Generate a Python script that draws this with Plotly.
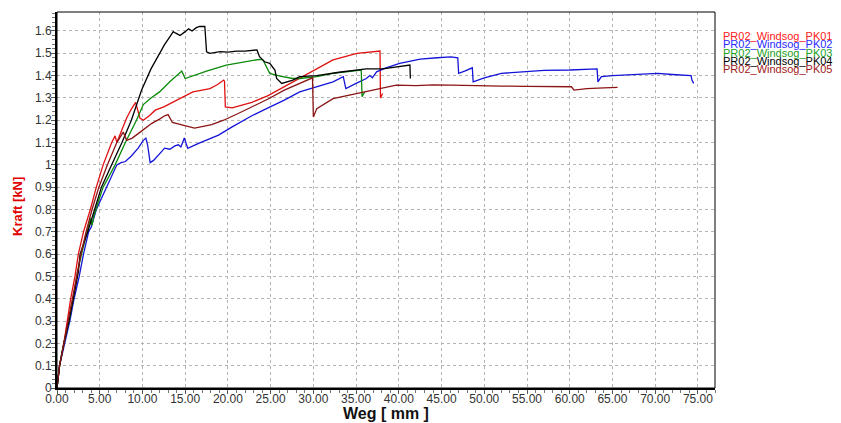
import plotly.graph_objects as go

# ---- data ----
names = ["PR02_Windsog_PK01", "PR02_Windsog_PK02", "PR02_Windsog_PK03",
         "PR02_Windsog_PK04", "PR02_Windsog_PK05"]

pk01_x = [0, 0.3, 0.8, 1.2, 1.6, 2.1, 2.5, 3.1, 3.9, 4.6, 5.4, 6.4, 6.8, 7.0, 7.4, 8.15, 8.7,
          9.1, 9.2, 9.7, 10.1, 10.8, 11.5, 12.5, 14.0, 15.9, 17.0, 17.9, 18.8, 19.5, 19.6,
          19.7, 20.5, 21.5, 22.8, 24.7, 26.6, 28.4, 30.4, 32.3, 35.1, 37.8, 37.85, 38.1]
pk01_y = [0, 0.1, 0.2, 0.3, 0.4, 0.5, 0.6, 0.7, 0.8, 0.9, 1.0, 1.1, 1.13, 1.10, 1.14, 1.21, 1.25,
          1.275, 1.28, 1.21, 1.20, 1.22, 1.245, 1.26, 1.29, 1.327, 1.335, 1.342, 1.36, 1.38, 1.375,
          1.26, 1.255, 1.265, 1.28, 1.31, 1.35, 1.387, 1.43, 1.47, 1.50, 1.51, 1.30, 1.32]

pk02_x = [0, 0.3, 0.9, 1.5, 2.0, 2.6, 3.1, 3.7, 4.0, 4.6, 5.8, 7.0, 7.5, 8.0, 8.7, 9.5, 10.1,
          10.4, 10.6, 10.9, 11.3, 12.0, 12.6, 13.2, 13.8, 14.2, 14.5, 14.9, 15.3, 16.5, 17.8,
          18.9, 20.5, 22.8, 24.7, 26.6, 28.4, 30.5, 32.3, 33.5, 33.8, 35.0, 36.2, 36.6, 36.9,
          37.4, 38.5, 40.1, 42.5, 44.5, 46.1, 46.9, 47.0, 47.7, 48.6, 48.7, 50.0, 52.0, 55.1,
          57.0, 60.0, 63.2, 63.3, 63.7, 65.0, 67.5, 70.3, 72.0, 74.2, 74.3, 74.5]
pk02_y = [0, 0.1, 0.2, 0.3, 0.4, 0.5, 0.6, 0.7, 0.72, 0.8, 0.9, 1.0, 1.01, 1.015, 1.04, 1.075,
          1.11, 1.12, 1.09, 1.01, 1.02, 1.05, 1.075, 1.07, 1.085, 1.09, 1.08, 1.12, 1.074, 1.095,
          1.115, 1.133, 1.17, 1.22, 1.255, 1.29, 1.327, 1.35, 1.372, 1.395, 1.342, 1.365, 1.387,
          1.40, 1.39, 1.417, 1.435, 1.455, 1.474, 1.48, 1.484, 1.48, 1.41, 1.42, 1.435, 1.372,
          1.39, 1.41, 1.42, 1.423, 1.425, 1.43, 1.372, 1.395, 1.40, 1.405, 1.41, 1.405, 1.40,
          1.38, 1.365]

pk03_x = [0, 0.3, 0.8, 1.4, 1.9, 2.4, 3.0, 3.7, 3.9, 4.1, 4.3, 4.8, 5.4, 6.8, 8.0, 9.3, 10.1,
          11.0, 12.0, 13.2, 14.4, 14.6, 15.0, 15.9, 17.5, 19.8, 21.8, 23.7, 24.1, 24.5, 24.9,
          26.1, 27.6, 28.4, 30.4, 32.3, 34.0, 35.6, 35.7, 36.0]
pk03_y = [0, 0.1, 0.2, 0.3, 0.4, 0.52, 0.62, 0.72, 0.76, 0.73, 0.77, 0.83, 0.9, 1.0, 1.1, 1.2,
          1.27, 1.30, 1.327, 1.372, 1.41, 1.42, 1.387, 1.40, 1.42, 1.447, 1.46, 1.473, 1.47,
          1.44, 1.41, 1.398, 1.387, 1.387, 1.395, 1.41, 1.418, 1.425, 1.305, 1.327]

pk04_x = [0, 0.3, 0.8, 1.4, 2.0, 2.5, 2.7, 3.6, 4.4, 5.2, 6.4, 7.6, 8.7, 9.9, 11.0, 12.0, 12.6,
          13.2, 13.6, 13.9, 14.4, 15.0, 15.4, 15.8, 16.3, 16.7, 17.3, 17.5, 17.9, 19.1, 20.0,
          21.0, 22.0, 23.4, 23.7, 24.3, 24.9, 25.5, 25.7, 26.3, 27.6, 28.4, 30.4, 33.0, 36.2,
          38.1, 40.0, 41.3, 41.35]
pk04_y = [0, 0.1, 0.2, 0.3, 0.42, 0.52, 0.6, 0.7, 0.8, 0.9, 1.0, 1.1, 1.2, 1.335, 1.43, 1.50,
          1.54, 1.574, 1.597, 1.59, 1.58, 1.597, 1.61, 1.60, 1.615, 1.62, 1.62, 1.507, 1.50,
          1.507, 1.505, 1.51, 1.51, 1.515, 1.485, 1.462, 1.455, 1.425, 1.387, 1.365, 1.38,
          1.395, 1.40, 1.415, 1.43, 1.43, 1.44, 1.447, 1.387]

pk05_x = [0, 0.3, 0.8, 1.3, 1.9, 2.3, 2.8, 3.4, 4.1, 4.9, 5.9, 7.0, 7.75, 8.15, 8.8, 9.5, 10.3,
          11.1, 12.0, 12.6, 13.0, 13.5, 14.5, 16.1, 18.1, 19.5, 21.2, 22.8, 24.7, 26.6, 28.6,
          29.9, 30.0, 30.4, 32.3, 35.1, 37.8, 39.7, 42.0, 44.0, 46.1, 48.0, 50.0, 52.0, 55.0,
          58.0, 60.2, 60.5, 62.0, 64.0, 65.6]
pk05_y = [0, 0.1, 0.2, 0.3, 0.42, 0.5, 0.6, 0.7, 0.8, 0.9, 1.0, 1.1, 1.147, 1.11, 1.12, 1.14,
          1.165, 1.186, 1.205, 1.22, 1.225, 1.19, 1.18, 1.165, 1.18, 1.20, 1.23, 1.26, 1.295,
          1.335, 1.37, 1.39, 1.215, 1.252, 1.297, 1.32, 1.342, 1.357, 1.355, 1.358, 1.357,
          1.355, 1.355, 1.353, 1.352, 1.35, 1.35, 1.335, 1.342, 1.345, 1.347]

series_x = [pk01_x, pk02_x, pk03_x, pk04_x, pk05_x]
series_y = [pk01_y, pk02_y, pk03_y, pk04_y, pk05_y]
line_colors = ["#e01010", "#1414d8", "#0a8a0a", "#000000", "#8b1414"]
legend_colors = ["#ff2020", "#2a2aff", "#22a022", "#000000", "#a02020"]

x_ticks = [i * 5 for i in range(16)]
y_ticks = [round(i * 0.1, 1) for i in range(17)]

# page has an 8px body margin: figure drawn at 833x415 inside it
W, H = 833, 415
L, R, T, B = 49, 126, 4, 35
PW, PH = W - L - R, H - T - B

fig = go.Figure()
for xs, ys, c, n in zip(series_x, series_y, line_colors, names):
    fig.add_trace(go.Scatter(x=xs, y=ys, mode="lines", name=n,
                             line=dict(color=c, width=1.3), showlegend=False))

# legend as coloured text to the right of the plot
for i, (n, c) in enumerate(zip(names, legend_colors)):
    fy = 28 + i * 8.3
    fig.add_annotation(x=(713 - L) / PW, xref="paper", xanchor="left",
                       y=1 - (fy - T) / PH, yref="paper", yanchor="middle",
                       text=n, showarrow=False,
                       font=dict(family="Liberation Sans, Arial", size=11, color=c))

# axis titles
fig.add_annotation(x=0.5, xref="paper", y=-(406 - (H - B)) / PH, yref="paper",
                   xanchor="center", yanchor="middle", showarrow=False,
                   text="<b>Weg [ mm ]</b>",
                   font=dict(family="Liberation Sans, Arial", size=16, color="#111111"))
fig.add_annotation(x=(10 - L) / PW, xref="paper", y=1 - (199 - T) / PH, yref="paper",
                   xanchor="center", yanchor="middle", showarrow=False, textangle=-90,
                   text="<b>Kraft [kN]</b>",
                   font=dict(family="Liberation Sans, Arial", size=13, color="#e00000"))

fig.update_layout(
    width=W, height=H,
    margin=dict(l=L, r=R, t=T, b=B, autoexpand=False),
    paper_bgcolor="white", plot_bgcolor="white",
    font=dict(family="Liberation Sans, Arial", size=12, color="#333333"),
    xaxis=dict(range=[0, 77.0], tickvals=x_ticks, tickformat=".2f", automargin=False,
               showgrid=True, gridcolor="#b4b4b4", griddash="dot", gridwidth=1,
               showline=True, linecolor="black", linewidth=2,
               ticks="outside", ticklen=4, tickcolor="#555", ticklabelstandoff=-5,
               minor=dict(dtick=1, ticks="outside", ticklen=3, tickcolor="#777", showgrid=False),
               zeroline=False),
    yaxis=dict(range=[0, 1.685], tickvals=y_ticks, automargin=False,
               showgrid=True, gridcolor="#b4b4b4", griddash="dot", gridwidth=1,
               showline=True, linecolor="black", linewidth=2,
               ticks="outside", ticklen=4, tickcolor="#555", ticklabelstandoff=-3,
               minor=dict(dtick=0.02, ticks="outside", ticklen=3, tickcolor="#777", showgrid=False),
               zeroline=False),
)

fig.add_shape(type="rect", xref="paper", yref="paper", x0=0, y0=0, x1=1, y1=1,
              line=dict(color="black", width=1), layer="above")

fig.write_html("out.html")
